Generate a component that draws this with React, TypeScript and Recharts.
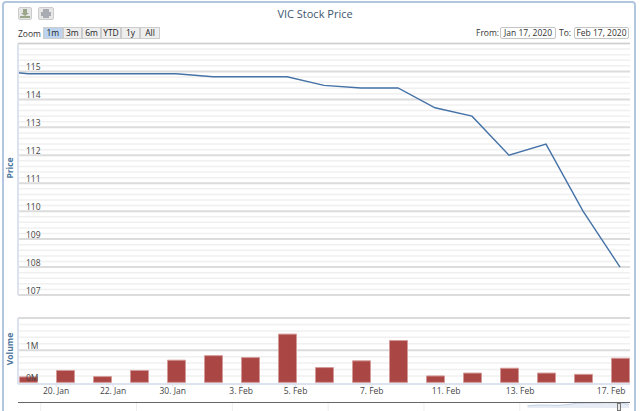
/** VIC stock price: price line over a volume column panel, with the range selector header. */
import {
  Area,
  Bar,
  BarChart,
  AreaChart,
  CartesianGrid,
  Line,
  LineChart,
  XAxis,
  YAxis,
} from 'recharts';

const W = 640;
const H = 411;
const FONT = '"Open Sans", "DejaVu Sans", sans-serif';

// trading day slots; -1 is the point just off the left edge of the zoom window
const priceDays = [-1, 0, 1, 2, 3, 4, 5, 6, 7, 8, 9, 10, 11, 12, 13, 14, 15, 16];
const priceValues = [
  115.05, 114.92, 114.92, 114.92, 114.92, 114.92, 114.81, 114.81, 114.81, 114.5, 114.41, 114.41,
  113.7, 113.4, 112.0, 112.4, 110.0, 108.0,
];

const volumeDays = [0, 1, 2, 3, 4, 5, 6, 7, 8, 9, 10, 11, 12, 13, 14, 15, 16];
const volumeValues = [
  0.17, 0.37, 0.18, 0.37, 0.69, 0.83, 0.77, 1.5, 0.46, 0.67, 1.3, 0.2, 0.29, 0.44, 0.29, 0.25, 0.75,
];

const tickDays = [0.76, 2.3, 3.91, 5.76, 7.23, 9.29, 11.3, 13.3, 15.76];
const tickLabels = ['20. Jan', '22. Jan', '30. Jan', '3. Feb', '5. Feb', '7. Feb', '11. Feb', '13. Feb', '17. Feb'];

const priceTicks = [107, 108, 109, 110, 111, 112, 113, 114, 115, 116];
const volumeTicks = [0, 1];

// overview strip under the main chart
const navX = [5.08, 5.2, 5.3, 5.4, 5.5, 5.6, 5.7, 5.8, 5.9, 6.0, 6.05, 6.14];
const navY = [2.2, 3.0, 2.8, 2.6, 3.4, 4.8, 5.0, 5.0, 5.4, 5.2, 5.0, 3.6];
const navGrid = [0, 1, 2, 3, 4, 5];

const rangeButtons = ['1m', '3m', '6m', 'YTD', '1y', 'All'];

const priceRows = priceDays.map((day, i) => ({ day, price: priceValues[i] }));
const volumeRows = volumeDays.map((day, i) => ({ day, volume: volumeValues[i] }));
const navRows = navX.map((x, i) => ({ x, y: navY[i] }));

const DAY_DOMAIN: [number, number] = [-0.27, 16.27];

const minorPrice = priceTicks
  .slice(0, -1)
  .flatMap((t) => [0.2, 0.4, 0.6, 0.8].map((f) => t + f));
const minorVolume = [0.2, 0.4, 0.6, 0.8, 1.2, 1.4, 1.6, 1.8];

const valueTick = { fill: '#444', fontSize: 8.5, fontFamily: FONT, dy: -4 };
const absolute = { position: 'absolute', left: 0, top: 0 } as const;

function axisTitle(text: string, cy: number) {
  return (
    <div
      style={{
        position: 'absolute',
        left: 9,
        top: cy,
        transform: 'translate(-50%, -50%) rotate(-90deg)',
        color: '#4d759e',
        font: `bold 8.5px ${FONT}`,
      }}
    >
      {text}
    </div>
  );
}

function rangeButton(text: string, i: number) {
  const edges = [43, 62.5, 82, 101, 121, 140, 160];
  return (
    <div
      key={text}
      style={{
        position: 'absolute',
        left: edges[i],
        top: 27,
        width: edges[i + 1] - edges[i],
        height: 12,
        boxSizing: 'border-box',
        border: '1px solid #cccccc',
        background: i === 0 ? '#bcd4f0' : '#eeeeee',
        color: '#222',
        font: `8.5px/10px ${FONT}`,
        textAlign: 'center',
      }}
    >
      {text}
    </div>
  );
}

function dateBox(text: string, left: number, width: number) {
  return (
    <div
      style={{
        position: 'absolute',
        left,
        top: 27,
        width,
        height: 12,
        boxSizing: 'border-box',
        border: '1px solid #c4c4c4',
        borderRadius: 2,
        color: '#333',
        font: `8.5px/10px ${FONT}`,
        textAlign: 'center',
        whiteSpace: 'nowrap',
      }}
    >
      {text}
    </div>
  );
}

function iconButton(left: number, width: number, glyph: React.ReactNode) {
  return (
    <div
      style={{
        position: 'absolute',
        left,
        top: 7,
        width,
        height: 13,
        boxSizing: 'border-box',
        border: '1px solid #cccccc',
        borderRadius: 2,
        background: '#e6e6e6',
      }}
    >
      <svg width={width - 2} height={11} style={{ display: 'block' }}>
        {glyph}
      </svg>
    </div>
  );
}

function label(text: string, left: number, top: number, size = 8.5) {
  return (
    <div style={{ position: 'absolute', left, top, color: '#333', font: `${size}px/12px ${FONT}`, whiteSpace: 'nowrap' }}>
      {text}
    </div>
  );
}

export default function App() {
  return (
    <div style={{ position: 'relative', width: W, height: H, overflow: 'hidden', background: '#fff' }}>
      <style>{'body{margin:0}'}</style>

      <div
        style={{
          position: 'absolute',
          left: 2,
          top: 1,
          width: 630,
          height: 430,
          border: '2px solid #b3c6e0',
          borderRadius: 4,
        }}
      />

      <div style={absolute}>
        <LineChart
          width={W}
          height={H}
          data={priceRows}
          margin={{ top: 43.5, right: 10, bottom: 116, left: 18 }}
        >
          <CartesianGrid
            horizontalValues={minorPrice}
            vertical={false}
            stroke="#f0f0f0"
            strokeWidth={1.5}
          />
          <CartesianGrid
            horizontalValues={priceTicks}
            vertical={false}
            stroke="#dcdcdc"
            strokeWidth={2}
          />
          <XAxis
            type="number"
            dataKey="day"
            domain={DAY_DOMAIN}
            allowDataOverflow
            hide
            height={0}
          />
          <YAxis
            domain={[107, 116]}
            ticks={priceTicks.slice(0, -1)}
            interval={0}
            mirror
            width={30}
            tickLine={false}
            axisLine={{ stroke: '#dde3ee', strokeWidth: 2 }}
            tickMargin={2}
            tick={valueTick}
          />
          <Line
            dataKey="price"
            type="linear"
            stroke="#4572a7"
            strokeWidth={1.4}
            dot={false}
            activeDot={false}
            isAnimationActive={false}
          />
        </LineChart>
      </div>

      <div style={absolute}>
        <BarChart
          width={W}
          height={H}
          data={volumeRows}
          margin={{ top: 318, right: 10, bottom: 0, left: 18 }}
        >
          <CartesianGrid
            horizontalValues={minorVolume}
            vertical={false}
            stroke="#f0f0f0"
            strokeWidth={1.5}
          />
          <CartesianGrid
            horizontalValues={[1]}
            vertical={false}
            stroke="#dcdcdc"
            strokeWidth={2}
          />
          <CartesianGrid
            horizontalValues={[2]}
            vertical={false}
            stroke="#cfcfcf"
            strokeWidth={1.5}
          />
          <XAxis
            type="number"
            dataKey="day"
            domain={DAY_DOMAIN}
            allowDataOverflow
            ticks={tickDays}
            interval={0}
            height={27}
            tickFormatter={(v: number) => tickLabels[tickDays.indexOf(v)]}
            axisLine={{ stroke: '#dde3ee', strokeWidth: 2 }}
            tickLine={{ stroke: '#dde3ee' }}
            tickSize={3}
            tickMargin={1}
            tick={{ fill: '#444', fontSize: 8.5, fontFamily: FONT }}
          />
          <YAxis
            domain={[-0.05, 2]}
            ticks={volumeTicks}
            interval={0}
            mirror
            width={30}
            tickLine={false}
            axisLine={{ stroke: '#dde3ee', strokeWidth: 2 }}
            tickMargin={2}
            tick={valueTick}
            tickFormatter={(v: number) => `${v}M`}
          />
          <Bar
            dataKey="volume"
            fill="#aa4643"
            stroke="#d49a98"
            strokeWidth={1}
            barSize={18}
            isAnimationActive={false}
          />
        </BarChart>
      </div>

      <div style={absolute}>
        <AreaChart
          width={W}
          height={H + 1}
          data={navRows}
          margin={{ top: 402, right: 10, bottom: 0, left: 18 }}
        >
          <CartesianGrid horizontal={false} verticalValues={navGrid} stroke="#eeeeee" />
          <XAxis
            type="number"
            dataKey="x"
            domain={[-0.237, 6.15]}
            allowDataOverflow
            hide
            height={0}
          />
          <YAxis hide width={0} domain={[-4, 6]} />
          <Area
            dataKey="y"
            type="linear"
            stroke="#c3d0e4"
            strokeWidth={1}
            fill="#e6ebf4"
            fillOpacity={1}
            dot={false}
            activeDot={false}
            isAnimationActive={false}
          />
        </AreaChart>
      </div>

      <div style={{ position: 'absolute', left: 18, top: 402, width: 612, height: 1, background: '#666' }} />
      <div style={{ position: 'absolute', left: 617, top: 403, width: 4, height: 8, boxSizing: 'border-box', border: '1px solid #777', background: '#e8e8e8' }} />

      {iconButton(18, 14, (
        <g fill="#9aa58a">
          <rect x={4} y={1} width={4} height={4} />
          <path d="M2 5 H10 L6 8 Z" />
          <rect x={1} y={8} width={10} height={2} />
        </g>
      ))}
      {iconButton(38, 16, (
        <g fill="#a8acb2">
          <rect x={4} y={1} width={6} height={3} />
          <rect x={2} y={4} width={10} height={4} />
          <rect x={4} y={8} width={6} height={2} />
        </g>
      ))}

      <div style={{ position: 'absolute', left: 0, width: W - 10, top: 6, textAlign: 'center', color: '#3e576f', font: `11px/16px ${FONT}` }}>
        VIC Stock Price
      </div>

      {label('Zoom', 18, 28)}
      {rangeButtons.map(rangeButton)}
      {label('From:', 476, 27)}
      {dateBox('Jan 17, 2020', 500, 56)}
      {label('To:', 559, 27)}
      {dateBox('Feb 17, 2020', 574, 55)}

      <div style={{ position: 'absolute', left: 18, top: 43, width: 612, height: 1, background: '#d0d0d0' }} />
      {axisTitle('Price', 168)}
      {axisTitle('Volume', 349)}
    </div>
  );
}
